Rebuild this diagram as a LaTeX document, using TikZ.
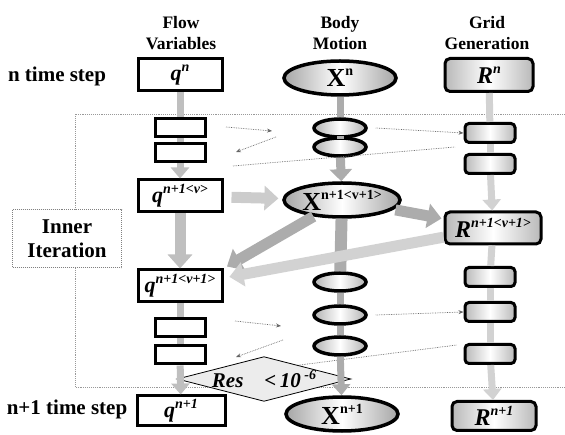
\documentclass[tikz,border=0pt]{standalone}
\usepackage{fontspec}
\setmainfont{Liberation Serif}
\usetikzlibrary{shapes.geometric,arrows.meta}

\newcommand{\supx}[1]{\raisebox{0.42em}{\fontsize{14}{14}\selectfont #1}}

\begin{document}
\begin{tikzpicture}[x=1pt,y=-1pt,
  colhead/.style={font=\fontsize{17.5}{21}\selectfont\bfseries,align=center},
  steplabel/.style={font=\fontsize{21}{22}\selectfont\bfseries},
  qbox/.style={draw,line width=3pt,fill=white,minimum width=84pt,minimum height=32pt,inner sep=0pt,
    font=\fontsize{22}{24}\selectfont\bfseries\itshape},
  qsmall/.style={draw,line width=3pt,fill=white,minimum width=50pt,minimum height=18pt,inner sep=0pt},
  xell/.style={ellipse,draw,line width=3.5pt,left color=gray!70,right color=gray!70,middle color=white,
    minimum width=112pt,minimum height=34pt,inner sep=0pt,font=\fontsize{26}{28}\selectfont\bfseries},
  xsmall/.style={ellipse,draw,line width=3.5pt,left color=gray!60,right color=gray!60,middle color=white,
    minimum width=52pt,minimum height=18pt,inner sep=0pt},
  rbox/.style={draw,rounded corners=5pt,line width=3pt,left color=gray!55,right color=gray!55,middle color=white,
    minimum width=88pt,minimum height=33pt,inner sep=0pt,font=\fontsize{24}{26}\selectfont\bfseries\itshape},
  rsmall/.style={draw,rounded corners=4pt,line width=3pt,left color=gray!55,right color=gray!55,middle color=white,
    minimum width=50pt,minimum height=19pt,inner sep=0pt},
  innerbox/.style={draw=gray,densely dotted,line width=1pt,fill=white,minimum width=109pt,minimum height=58pt,
    align=center,font=\fontsize{21}{24}\selectfont\bfseries},
  frameline/.style={draw=gray!80,densely dotted,line width=0.9pt},
  pipe/.style={line width=7pt},
  fat/.style={-{Triangle[width=18pt,length=11pt]}},
  bigfat/.style={line width=11pt,-{Triangle[width=24pt,length=14pt]}},
  dotline/.style={densely dotted,gray!80!black,line width=0.7pt},
  dotarrow/.style={dotline,-{Stealth[length=5pt,width=4pt]}},
]
\useasboundingbox (0,0) rectangle (565,435);

% iteration frame
\draw[frameline] (565,114) -- (75,114) -- (75,387) -- (565,387);

% headings
\node[colhead] (flow) at (181,33) {Flow\\Variables};
\node[colhead] (body) at (340,33) {Body\\Motion};
\node[colhead] (grid) at (487,33) {Grid\\Generation};
\node[steplabel] (nstep) at (57,76) {n time step};
\node[steplabel] (n1step) at (67,409) {n+1 time step};
\node[innerbox] (inner) at (67,239) {Inner\\Iteration};

% flow variables
\node[qbox] (qn) at (180,75) {q\supx{n}};
\node[qsmall] (q1) at (180,128) {};
\node[qsmall] (q2) at (180,153) {};
\node[qbox] (qv) at (180,196) {q\supx{n+1<v>}};
\node[qbox] (qvv) at (180,286) {q\supx{n+1<v+1>}};
\node[qsmall] (q3) at (180,328) {};
\node[qsmall] (q4) at (180,355) {};
\node[qbox,minimum width=88pt,minimum height=30pt] (qn1) at (181,411) {q\supx{n+1}};

% body motion
\node[xell] (Xn) at (340,78) {X\supx{n}};
\node[xsmall] (x1) at (340,128) {};
\node[xsmall] (x2) at (340,147) {};
\node[xell,minimum width=116pt] (Xv) at (342,200) {X\supx{n+1<v+1>}};
\node[xsmall] (x3) at (340,282) {};
\node[xsmall] (x4) at (340,315) {};
\node[xsmall] (x5) at (340,346) {};
\node[xell] (Xn1) at (342,414) {X\supx{n+1}};

% grid generation
\node[rbox] (Rn) at (489,75) {R\supx{n}};
\node[rsmall] (r1) at (490,133) {};
\node[rsmall] (r2) at (490,164) {};
\node[rbox,minimum width=96pt,minimum height=32pt] (Rv) at (493,228) {R\supx{n+1<v+1>}};
\node[rsmall] (r3) at (490,277) {};
\node[rsmall] (r4) at (490,312) {};
\node[rsmall] (r5) at (490,354) {};
\node[rbox,minimum width=84pt,minimum height=29pt] (Rn1) at (494,416) {R\supx{n+1}};

% thin exchanges
\coordinate (t1a) at (226,127); \coordinate (t1b) at (272,131);
\coordinate (t2a) at (276,137); \coordinate (t2b) at (236,152);
\coordinate (t3a) at (233,166); \coordinate (t3b) at (455,147);
\coordinate (t5a) at (235,321); \coordinate (t5b) at (281,326);
\coordinate (t6a) at (283,340); \coordinate (t6b) at (236,357);
\coordinate (t8a) at (292,366); \coordinate (t8b) at (457,345);
\draw[dotarrow] (t1a) -- (t1b);
\draw[dotarrow] (t2a) -- (t2b);
\draw[dotline] (t3a) -- (t3b);
\draw[dotarrow] (x1.east) ++(8,0) -- (r1.west);
\draw[dotarrow] (t5a) -- (t5b);
\draw[dotarrow] (t6a) -- (t6b);
\draw[dotarrow] (x4.east) ++(8,0) -- (r4.west);
\draw[dotline] (t8a) -- (t8b);

% convergence check
\node[minimum width=173pt,minimum height=44pt,inner sep=0pt] (res) at (264,379) {};
\draw[line width=0.8pt,fill=gray!15] (res.west) -- (res.north) -- (res.east) -- (res.south) -- cycle;
\node[font=\fontsize{21}{23}\selectfont\bfseries\itshape,inner sep=0pt] (reslabel) at (res.center)
  {Res\quad{<}\,10\,\supx{-6}};

% vertical transfers
\draw[pipe,gray!50] (qn) -- (q1);
\draw[pipe,gray!50] (q1) -- (q2);
\draw[pipe,gray!50,fat] (q2) -- (qv);
\draw[bigfat,gray!50] (qv) -- (qvv);
\draw[pipe,gray!50] (qvv) -- (q3);
\draw[pipe,gray!50] (q3) -- (q4);
\draw[pipe,gray!50,fat] (q4) -- (qn1);

\draw[pipe,gray!65] (Xn) -- (x1);
\draw[pipe,gray!65] (x1) -- (x2);
\draw[line width=9pt,gray!65,-{Triangle[width=22pt,length=12pt]}] (x2) -- (Xv);
\draw[line width=12pt,gray!65] (Xv) -- (x3);
\draw[pipe,gray!65] (x3) -- (x4);
\draw[pipe,gray!65] (x4) -- (x5);
\draw[pipe,gray!65,fat] (x5) -- (Xn1);

\draw[pipe,gray!35] (Rn) -- (r1);
\draw[pipe,gray!35] (r1) -- (r2);
\draw[pipe,gray!35,fat] (r2) -- (Rv);
\draw[pipe,gray!35] (Rv) -- (r3);
\draw[pipe,gray!35] (r3) -- (r4);
\draw[pipe,gray!35] (r4) -- (r5);
\draw[pipe,gray!35,fat] (r5) -- (Rn1);

% coupling
\draw[bigfat,gray!40,shorten <=8pt,shorten >=4pt] (qv) -- (Xv);
\draw[bigfat,gray!65,shorten <=2pt,shorten >=2pt] (Xv) -- (Rv);
\draw[bigfat,gray!65,shorten >=4pt] (Xv) -- (qvv.north east);
\draw[bigfat,gray!35,shorten >=6pt] (Rv) -- (qvv);
\end{tikzpicture}
\end{document}
